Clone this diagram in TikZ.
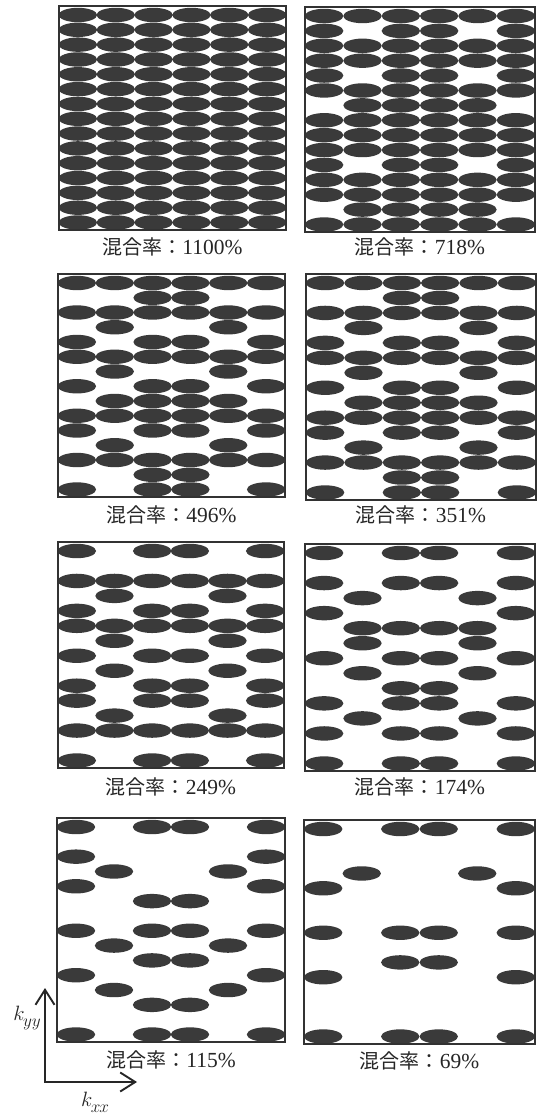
\documentclass[tikz,border=0pt]{standalone}
\usepackage{fontspec}
\setmainfont{Liberation Serif}
\newfontfamily\cjk{Noto Sans CJK JP}
\usetikzlibrary{arrows.meta}
\definecolor{cellgray}{RGB}{58,58,58}
\definecolor{framegray}{RGB}{50,50,50}
\newcommand{\mixlabel}[1]{{\cjk\fontsize{20}{24}\selectfont 混合率：}{\fontsize{21.5}{24}\selectfont #1}}
% #1 name, #2 L, #3 T, #4 R, #5 B, #6 rows, #7 label, #8 label y
\newcommand{\mixpanel}[8]{%
  \pgfmathsetmacro\pw{#4-#2}%
  \pgfmathsetmacro\ph{#5-#3}%
  \begin{scope}
    \clip (#2,#3) rectangle (#4,#5);
    \foreach \r [count=\j] in {#6} {
      \pgfmathsetmacro\yy{#3+9+(\j-1)*(\ph-16.5)/14}
      \foreach \i in \r {
        \ifnum\i>0
          \pgfmathsetmacro\xx{#2+(\i-0.5)*\pw/6}
          \fill[cellgray] (\xx,\yy) ellipse[x radius=19.2, y radius=7.2];
        \fi
      }
    }
  \end{scope}
  \draw[framebox] (#2,#3) rectangle (#4,#5);
  \node[mixtext] (#1) at ({(#2+#4)/2},#8) {\mixlabel{#7}};
}
\begin{document}
\begin{tikzpicture}[x=1pt,y=-1pt,
  framebox/.style={draw=framegray, line width=1.8pt},
  mixtext/.style={inner sep=0pt, text=black!85},
  axisline/.style={draw=black!85, line width=1.9pt, line join=miter,
    {Straight Barb[length=15pt,width=19pt,line width=1.9pt]}-{Straight Barb[length=15pt,width=19pt,line width=1.9pt]}},
  axislabel/.style={inner sep=0pt, text=black!85}]
\useasboundingbox (0,0) rectangle (540,1118);
\fill[white] (0,0) rectangle (540,1118);

\mixpanel{l1}{59}{6}{286}{230}{%
{1,2,3,4,5,6},{1,2,3,4,5,6},{1,2,3,4,5,6},{1,2,3,4,5,6},{1,2,3,4,5,6},%
{1,2,3,4,5,6},{1,2,3,4,5,6},{1,2,3,4,5,6},{1,2,3,4,5,6},{1,2,3,4,5,6},%
{1,2,3,4,5,6},{1,2,3,4,5,6},{1,2,3,4,5,6},{1,2,3,4,5,6},{1,2,3,4,5,6}}{1100\%}{247}

\mixpanel{l2}{305}{7}{535}{232}{%
{1,2,3,4,5,6},{1,3,4,6},{1,2,3,4,5,6},{1,2,3,4,5,6},{1,3,4,6},%
{1,2,3,4,5,6},{2,3,4,5},{1,2,3,4,5,6},{1,2,3,4,5,6},{1,2,3,4,5,6},%
{1,3,4,6},{1,2,3,4,5,6},{1,2,3,4,5,6},{2,3,4,5},{1,2,3,4,5,6}}{718\%}{247}

\mixpanel{l3}{58}{274}{285}{497}{%
{1,2,3,4,5,6},{3,4},{1,2,3,4,5,6},{2,5},{1,3,4,6},%
{1,2,3,4,5,6},{2,5},{1,3,4,6},{2,3,4,5},{1,2,3,4,5,6},%
{1,3,4,6},{2,5},{1,2,3,4,5,6},{3,4},{1,3,4,6}}{496\%}{515}

\mixpanel{l4}{306}{274}{536}{500}{%
{1,2,3,4,5,6},{3,4},{1,2,3,4,5,6},{2,5},{1,3,4,6},%
{1,2,3,4,5,6},{2,5},{1,3,4,6},{2,3,4,5},{1,2,3,4,5,6},%
{1,3,4,6},{2,5},{1,2,3,4,5,6},{3,4},{1,3,4,6}}{351\%}{515}

\mixpanel{l5}{58}{542}{284}{768}{%
{1,3,4,6},{0},{1,2,3,4,5,6},{2,5},{1,3,4,6},%
{1,2,3,4,5,6},{2,5},{1,3,4,6},{2,5},{1,3,4,6},%
{1,3,4,6},{2,5},{1,2,3,4,5,6},{0},{1,3,4,6}}{249\%}{787}

\mixpanel{l6}{305}{544}{535}{771}{%
{1,3,4,6},{0},{1,3,4,6},{2,5},{1,6},%
{2,3,4,5},{2,5},{1,3,4,6},{2,5},{3,4},%
{1,3,4,6},{2,5},{1,3,4,6},{0},{1,3,4,6}}{174\%}{787}

\mixpanel{l7}{57}{818}{285}{1042}{%
{1,3,4,6},{0},{1,6},{2,5},{1,6},%
{3,4},{0},{1,3,4,6},{2,5},{3,4},%
{1,6},{2,5},{3,4},{0},{1,3,4,6}}{115\%}{1060}

\mixpanel{l8}{304}{820}{535}{1044}{%
{1,3,4,6},{0},{0},{2,5},{1,6},%
{0},{0},{1,3,4,6},{0},{3,4},%
{1,6},{0},{0},{0},{1,3,4,6}}{69\%}{1061}

% axes
\coordinate (ytip) at (45,988);
\coordinate (origin) at (45,1082);
\coordinate (xtip) at (137,1082);
\draw[axisline] (ytip) -- (origin) -- (xtip);
\node[axislabel] (kyy) at (27,1018) {\fontsize{22}{24}\selectfont$k$\kern-1.5pt\raisebox{-6pt}{\fontsize{19}{19}\selectfont$yy$}};
\node[axislabel] (kxx) at (95,1102) {\fontsize{22}{24}\selectfont$k$\kern-1.5pt\raisebox{-6pt}{\fontsize{18}{18}\selectfont$x\kern-1pt x$}};
\end{tikzpicture}
\end{document}
